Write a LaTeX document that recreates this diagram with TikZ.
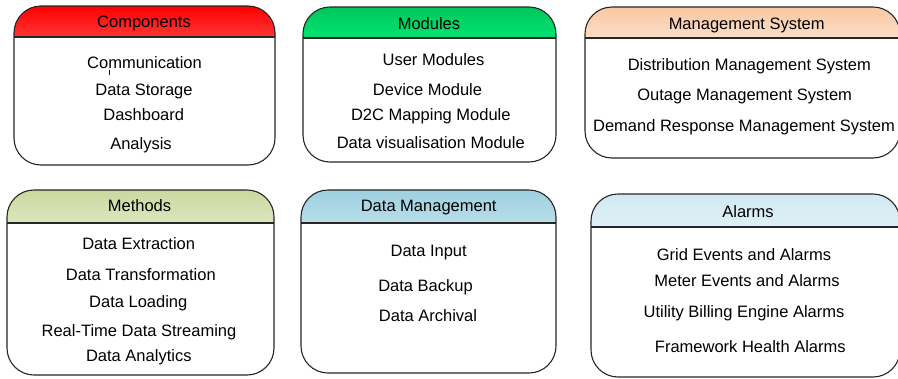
\documentclass[tikz,border=0pt]{standalone}
\usepackage{fontspec}
\setmainfont{Liberation Sans}
\begin{document}
\begin{tikzpicture}[x=1pt,y=-1pt,
  item/.style={font=\fontsize{16.5}{19}\selectfont, inner sep=0pt, anchor=base, yshift=-5.9pt},
  frame/.style={draw=black!85, line width=1.1pt, rounded corners=27pt}]
\definecolor{redA}{HTML}{FF0000}\definecolor{redB}{HTML}{FF3535}
\definecolor{grnA}{HTML}{00C65A}\definecolor{grnB}{HTML}{00E472}
\definecolor{pchA}{HTML}{F8C8A2}\definecolor{pchB}{HTML}{FCDDC6}
\definecolor{olvA}{HTML}{CAD8A0}\definecolor{olvB}{HTML}{DCE6BE}
\definecolor{bluA}{HTML}{9ED0E0}\definecolor{bluB}{HTML}{B8DEEA}
\definecolor{icyA}{HTML}{D2E9F1}\definecolor{icyB}{HTML}{DEF0F6}
\useasboundingbox (0,0) rectangle (898,378);
\fill[white] (0,0) rectangle (898,378);
% panel: x1 y1 x2 y2 header-line top-colour bottom-colour
\newcommand\panel[7]{%
  \begin{scope}
    \clip[rounded corners=27pt] (#1,#2) rectangle (#3,#4);
    \fill[top color=#6, bottom color=#7] (#1,#2) rectangle (#3,#5);
  \end{scope}
  \draw[frame] (#1,#2) rectangle (#3,#4);
  \draw[draw=black!85, line width=1.1pt] (#1,#5) -- (#3,#5);
}
\panel{14}{6}{275}{165}{37}{redA}{redB}
\panel{303}{7}{556}{162}{38}{grnA}{grnB}
\panel{585}{7}{900}{158}{38}{pchA}{pchB}
\panel{7}{190}{274}{375}{223}{olvA}{olvB}
\panel{301}{190}{556}{373}{223}{bluA}{bluB}
\panel{591}{194}{900}{377}{227}{icyA}{icyB}

% Components
\node[item] (hComp) at (144,21.5) {Components};
\node[item] (c1) at (144.5,62.7) {Communication};
\node[item] (c2) at (144,89.3) {Data Storage};
\node[item] (c3) at (143.7,114.3) {Dashboard};
\node[item] (c4) at (141,143.3) {Analysis};
\coordinate (tickA) at (109,70);
\coordinate (tickB) at (109,74.5);
\draw[line width=0.6pt] (tickA) -- (tickB);

% Modules
\node[item] (hMod) at (429,23.3) {Modules};
\node[item] (m1) at (433.5,60) {User Modules};
\node[item] (m2) at (427.5,89.3) {Device Module};
\node[item] (m3) at (430.8,114.3) {D2C Mapping Module};
\node[item] (m4) at (430.8,142.7) {Data visualisation Module};

% Management System
\node[item] (hMgmt) at (746.7,23.3) {Management System};
\node[item] (s1) at (749.3,65) {Distribution Management System};
\node[item] (s2) at (744.7,94.3) {Outage Management System};
\node[item] (s3) at (744,126) {Demand Response Management System};

% Methods
\node[item] (hMeth) at (139.5,206) {Methods};
\node[item] (e1) at (138.7,243.3) {Data Extraction};
\node[item] (e2) at (140.8,275) {Data Transformation};
\node[item] (e3) at (138.3,301.7) {Data Loading};
\node[item] (e4) at (139,331) {Real-Time Data Streaming};
\node[item] (e5) at (138.8,356) {Data Analytics};

% Data Management
\node[item] (hData) at (428.7,206) {Data Management};
\node[item] (d1) at (428.7,251) {Data Input};
\node[item] (d2) at (425.5,286) {Data Backup};
\node[item] (d3) at (428,316) {Data Archival};

% Alarms
\node[item] (hAlm) at (748,211.7) {Alarms};
\node[item] (a1) at (744,255) {Grid Events and Alarms};
\node[item] (a2) at (747,281) {Meter Events and Alarms};
\node[item] (a3) at (744,311.7) {Utility Billing Engine Alarms};
\node[item] (a4) at (750.3,346.7) {Framework Health Alarms};
\end{tikzpicture}
\end{document}
